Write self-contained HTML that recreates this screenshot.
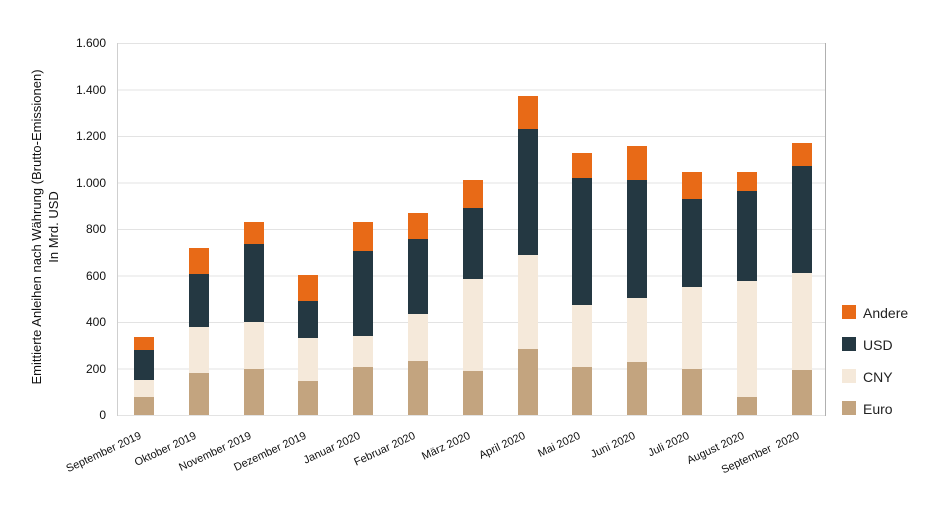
<!DOCTYPE html>
<html><head><meta charset="utf-8"><style>body{margin:0;background:#fff}svg{display:block}</style></head><body>
<svg width="926" height="515" xmlns="http://www.w3.org/2000/svg" font-family="Liberation Sans, Arial, sans-serif">
<g stroke="#e3e3e3" stroke-width="1">
<line x1="117" x2="825" y1="43.5" y2="43.5"/><line x1="117" x2="825" y1="90" y2="90"/><line x1="117" x2="825" y1="136.5" y2="136.5"/><line x1="117" x2="825" y1="183" y2="183"/><line x1="117" x2="825" y1="229.5" y2="229.5"/><line x1="117" x2="825" y1="276" y2="276"/><line x1="117" x2="825" y1="322.5" y2="322.5"/><line x1="117" x2="825" y1="369" y2="369"/><line x1="117" x2="825" y1="415.5" y2="415.5"/>
</g>
<line x1="117.5" x2="117.5" y1="43" y2="416" stroke="#cfcfcf"/>
<line x1="825.5" x2="825.5" y1="43" y2="416" stroke="#b0b0b0"/>
<g font-size="12" fill="#111" text-anchor="end">
<text x="106" y="47">1.600</text><text x="106" y="94">1.400</text><text x="106" y="140">1.200</text><text x="106" y="187">1.000</text><text x="106" y="233">800</text><text x="106" y="280">600</text><text x="106" y="326">400</text><text x="106" y="373">200</text><text x="106" y="419">0</text>
</g>
<g font-size="13" fill="#111" text-anchor="middle">
<text transform="translate(41,227) rotate(-90)">Emittierte Anleihen nach Währung (Brutto-Emissionen)</text>
<text transform="translate(58,227) rotate(-90)">In Mrd. USD</text>
</g>
<g font-size="14" fill="#222">
<rect x="842" y="305" width="14" height="14" fill="#e86a17"/><text x="863" y="318">Andere</text>
<rect x="842" y="337" width="14" height="14" fill="#243842"/><text x="863" y="350">USD</text>
<rect x="842" y="369" width="14" height="14" fill="#f5e9da"/><text x="863" y="382">CNY</text>
<rect x="842" y="401" width="14" height="14" fill="#c3a47f"/><text x="863" y="414">Euro</text>
</g>
<g font-size="11" fill="#111" text-anchor="end">
<text transform="translate(142,438) rotate(-25)">September 2019</text>
<text transform="translate(197,438) rotate(-25)">Oktober 2019</text>
<text transform="translate(252,438) rotate(-25)">November 2019</text>
<text transform="translate(307,438) rotate(-25)">Dezember 2019</text>
<text transform="translate(361,438) rotate(-25)">Januar 2020</text>
<text transform="translate(416,438) rotate(-25)">Februar 2020</text>
<text transform="translate(471,438) rotate(-25)">März 2020</text>
<text transform="translate(526,438) rotate(-25)">April 2020</text>
<text transform="translate(581,438) rotate(-25)">Mai 2020</text>
<text transform="translate(636,438) rotate(-25)">Juni 2020</text>
<text transform="translate(690,438) rotate(-25)">Juli 2020</text>
<text transform="translate(745,438) rotate(-25)">August 2020</text>
<text transform="translate(800,438) rotate(-25)">September &#160;2020</text>
</g>
<g>
<rect x="134" y="337" width="20" height="13" fill="#e86a17"/><rect x="134" y="350" width="20" height="30" fill="#243842"/><rect x="134" y="380" width="20" height="17" fill="#f5e9da"/><rect x="134" y="397" width="20" height="18" fill="#c3a47f"/>
<rect x="189" y="248" width="20" height="26" fill="#e86a17"/><rect x="189" y="274" width="20" height="53" fill="#243842"/><rect x="189" y="327" width="20" height="46" fill="#f5e9da"/><rect x="189" y="373" width="20" height="42" fill="#c3a47f"/>
<rect x="244" y="222" width="20" height="22" fill="#e86a17"/><rect x="244" y="244" width="20" height="78" fill="#243842"/><rect x="244" y="322" width="20" height="47" fill="#f5e9da"/><rect x="244" y="369" width="20" height="46" fill="#c3a47f"/>
<rect x="298" y="275" width="20" height="26" fill="#e86a17"/><rect x="298" y="301" width="20" height="37" fill="#243842"/><rect x="298" y="338" width="20" height="43" fill="#f5e9da"/><rect x="298" y="381" width="20" height="34" fill="#c3a47f"/>
<rect x="353" y="222" width="20" height="29" fill="#e86a17"/><rect x="353" y="251" width="20" height="85" fill="#243842"/><rect x="353" y="336" width="20" height="31" fill="#f5e9da"/><rect x="353" y="367" width="20" height="48" fill="#c3a47f"/>
<rect x="408" y="213" width="20" height="26" fill="#e86a17"/><rect x="408" y="239" width="20" height="75" fill="#243842"/><rect x="408" y="314" width="20" height="47" fill="#f5e9da"/><rect x="408" y="361" width="20" height="54" fill="#c3a47f"/>
<rect x="463" y="180" width="20" height="28" fill="#e86a17"/><rect x="463" y="208" width="20" height="71" fill="#243842"/><rect x="463" y="279" width="20" height="92" fill="#f5e9da"/><rect x="463" y="371" width="20" height="44" fill="#c3a47f"/>
<rect x="518" y="96" width="20" height="33" fill="#e86a17"/><rect x="518" y="129" width="20" height="126" fill="#243842"/><rect x="518" y="255" width="20" height="94" fill="#f5e9da"/><rect x="518" y="349" width="20" height="66" fill="#c3a47f"/>
<rect x="572" y="153" width="20" height="25" fill="#e86a17"/><rect x="572" y="178" width="20" height="127" fill="#243842"/><rect x="572" y="305" width="20" height="62" fill="#f5e9da"/><rect x="572" y="367" width="20" height="48" fill="#c3a47f"/>
<rect x="627" y="146" width="20" height="34" fill="#e86a17"/><rect x="627" y="180" width="20" height="118" fill="#243842"/><rect x="627" y="298" width="20" height="64" fill="#f5e9da"/><rect x="627" y="362" width="20" height="53" fill="#c3a47f"/>
<rect x="682" y="172" width="20" height="27" fill="#e86a17"/><rect x="682" y="199" width="20" height="88" fill="#243842"/><rect x="682" y="287" width="20" height="82" fill="#f5e9da"/><rect x="682" y="369" width="20" height="46" fill="#c3a47f"/>
<rect x="737" y="172" width="20" height="19" fill="#e86a17"/><rect x="737" y="191" width="20" height="90" fill="#243842"/><rect x="737" y="281" width="20" height="116" fill="#f5e9da"/><rect x="737" y="397" width="20" height="18" fill="#c3a47f"/>
<rect x="792" y="143" width="20" height="23" fill="#e86a17"/><rect x="792" y="166" width="20" height="107" fill="#243842"/><rect x="792" y="273" width="20" height="97" fill="#f5e9da"/><rect x="792" y="370" width="20" height="45" fill="#c3a47f"/>
</g>
</svg>
</body></html>
